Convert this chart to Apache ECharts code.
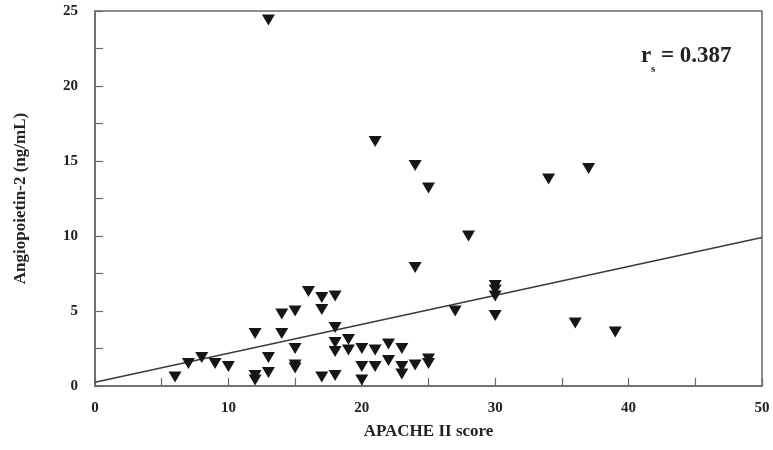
<!DOCTYPE html>
<html>
<head>
<meta charset="utf-8">
<style>
  html, body { margin: 0; padding: 0; background: #fff; }
  #chart { width: 773px; height: 450px; }
</style>
<script src="https://cdn.jsdelivr.net/npm/echarts@6/dist/echarts.min.js"></script>
</head>
<body>
<div id="chart"></div>
<script>
// APACHE II score vs. Angiopoietin-2 concentration, one point per patient
const apacheScores = [
  6, 7, 8, 9, 10, 12, 12, 12, 13, 13, 13, 14, 14, 15, 15, 15, 15,
  16, 17, 17, 17, 18, 18, 18, 18, 18, 19, 19, 20, 20, 20,
  21, 21, 21, 22, 22, 23, 23, 23, 24, 24, 24, 25, 25, 25,
  27, 28, 30, 30, 30, 30, 34, 36, 37, 39
];
const ang2Values = [
  0.6, 1.5, 1.9, 1.5, 1.3, 3.5, 0.7, 0.4, 24.4, 1.9, 0.9, 4.8, 3.5, 5.0, 2.5, 1.4, 1.2,
  6.3, 5.9, 5.1, 0.6, 6.0, 3.9, 2.9, 2.3, 0.7, 3.1, 2.4, 2.5, 1.3, 0.4,
  16.3, 2.4, 1.3, 2.8, 1.7, 2.5, 1.3, 0.8, 14.7, 7.9, 1.4, 13.2, 1.8, 1.5,
  5.0, 10.0, 6.7, 6.4, 6.0, 4.7, 13.8, 4.2, 14.5, 3.6
];
// Fitted trend line end points
const fitX = [0, 50];
const fitY = [0.25, 9.9];

const xTickLabels = ['0', '10', '20', '30', '40', '50'];
const yTickLabels = ['0', '5', '10', '15', '20', '25'];
const rsLabel = '0.387';

const serif = '"Liberation Serif", "Times New Roman", serif';
const axisColor = '#6a6a6a';
const textColor = '#222';

const points = apacheScores.map((x, i) => [x, ang2Values[i]]);
const fitLine = fitX.map((x, i) => [x, fitY[i]]);

const chart = echarts.init(document.getElementById('chart'), null, { renderer: 'canvas' });

chart.setOption({
  animation: false,
  backgroundColor: '#fff',
  grid: {
    left: 95, right: 11, top: 11, bottom: 64,
    show: true, borderColor: axisColor, borderWidth: 1.5, backgroundColor: 'transparent'
  },
  xAxis: {
    type: 'value', min: 0, max: 50, interval: 5,
    name: 'APACHE II score', nameLocation: 'middle', nameGap: 37,
    nameTextStyle: { fontFamily: serif, fontWeight: 'bold', fontSize: 17, color: textColor },
    axisLine: { show: true, lineStyle: { color: axisColor, width: 1.5 } },
    axisTick: { show: true, inside: true, length: 8, lineStyle: { color: axisColor, width: 1.2 } },
    splitLine: { show: false },
    axisLabel: {
      margin: 15, fontFamily: serif, fontWeight: 'bold', fontSize: 15, color: textColor,
      formatter: v => (v % 10 === 0 ? xTickLabels[v / 10] : '')
    }
  },
  yAxis: {
    type: 'value', min: 0, max: 25, interval: 2.5,
    name: 'Angiopoietin-2 (ng/mL)', nameLocation: 'middle', nameGap: 66, nameRotate: 90,
    nameTextStyle: { fontFamily: serif, fontWeight: 'bold', fontSize: 17, color: textColor },
    axisLine: { show: true, lineStyle: { color: axisColor, width: 1.5 } },
    axisTick: { show: true, inside: true, length: 8, lineStyle: { color: axisColor, width: 1.2 } },
    splitLine: { show: false },
    axisLabel: {
      margin: 17, fontFamily: serif, fontWeight: 'bold', fontSize: 15, color: textColor,
      formatter: v => (v % 5 === 0 ? yTickLabels[v / 5] : '')
    }
  },
  series: [
    {
      type: 'line',
      data: fitLine,
      showSymbol: false,
      lineStyle: { color: '#3a3a3a', width: 1.3 },
      z: 2
    },
    {
      type: 'scatter',
      data: points,
      symbol: 'triangle',
      symbolRotate: 180,
      symbolSize: [13, 11],
      itemStyle: { color: '#161616', opacity: 1 },
      z: 3
    }
  ],
  graphic: [
    {
      type: 'text', left: 641, top: 45,
      style: { text: 'r', font: 'bold 23px ' + serif, fill: textColor }
    },
    {
      type: 'text', left: 651, top: 64,
      style: { text: 's', font: 'bold 11px ' + serif, fill: textColor }
    },
    {
      type: 'text', left: 661, top: 45,
      style: { text: '= ' + rsLabel, font: 'bold 23px ' + serif, fill: textColor }
    }
  ]
});
</script>
</body>
</html>
